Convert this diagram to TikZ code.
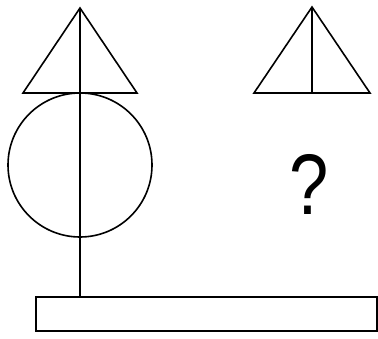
\documentclass[tikz,border=0pt]{standalone}
\usepackage{fontspec}
\setmainfont{Liberation Sans}
\begin{document}
\begin{tikzpicture}[x=1pt,y=-1pt,
  shapeline/.style={draw=black, line width=1.6pt, line join=miter},
  qmark/.style={inner sep=0pt, font=\fontsize{86}{86}\selectfont}]
\useasboundingbox (0,0) rectangle (378,338);
% left figure
\coordinate (LA) at (80,8);
\coordinate (LL) at (23,93);
\coordinate (LR) at (137,93);
\coordinate (CC) at (80,165);
\coordinate (RT) at (80,297);
\draw[shapeline] (LL) -- (LA) -- (LR) -- cycle;
\draw[shapeline] (CC) circle[radius=72pt];
\draw[shapeline] (LA) -- (RT);
\draw[shapeline] (36,297) rectangle (377,331);
% right figure
\coordinate (RA) at (312,7);
\coordinate (RL) at (254,93);
\coordinate (RR) at (370,93);
\coordinate (RM) at (312,93);
\draw[shapeline] (RL) -- (RA) -- (RR) -- cycle;
\draw[shapeline] (RA) -- (RM);
\node[qmark] (Q) at (309,184.5) {\scalebox{0.82}[1]{?}};
\end{tikzpicture}
\end{document}
